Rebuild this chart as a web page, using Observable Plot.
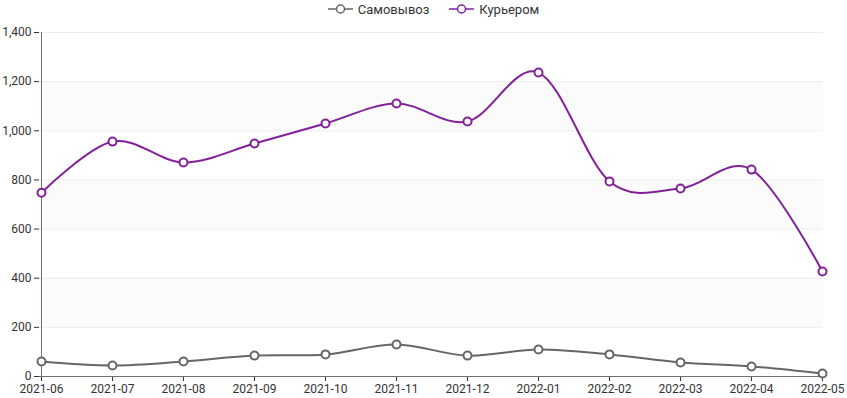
<!DOCTYPE html>
<html>
<head>
<meta charset="utf-8">
<script src="https://cdn.jsdelivr.net/npm/d3@7"></script>
<script src="https://cdn.jsdelivr.net/npm/@observablehq/plot@0.6"></script>
<style>
  body { margin: 0; background: #fff; font-family: Roboto, "Noto Sans", sans-serif; }
  #legend { height: 18px; display: flex; justify-content: center; align-items: center; gap: 20px; font-size: 13px; color: #333; padding-left: 20px; }
  .item { display: flex; align-items: center; gap: 5px; }
  #chart svg { display: block; }
</style>
</head>
<body>
<div id="legend"></div>
<div id="chart"></div>
<script>
const months = ["2021-06","2021-07","2021-08","2021-09","2021-10","2021-11","2021-12","2022-01","2022-02","2022-03","2022-04","2022-05"];
const pickup = [61, 45, 61, 85, 90, 130, 85, 110, 90, 57, 41, 12];
const courier = [748, 956, 871, 948, 1030, 1111, 1038, 1237, 794, 765, 842, 427];
const seriesNames = ["Самовывоз", "Курьером"];
const seriesColors = ["#666666", "#82209a"];
const yTicks = [0, 200, 400, 600, 800, 1000, 1200, 1400];

const rows = [];
months.forEach((m, i) => {
  rows.push({month: m, value: pickup[i], series: seriesNames[0]});
  rows.push({month: m, value: courier[i], series: seriesNames[1]});
});
const bands = yTicks.slice(0, -1).map((t, i) => ({y1: t, y2: yTicks[i + 1], odd: i % 2 === 1}));

// Legend
const legend = document.getElementById("legend");
seriesNames.forEach((name, i) => {
  const c = seriesColors[i];
  const el = document.createElement("div");
  el.className = "item";
  el.innerHTML = `<svg width="25" height="14"><line x1="0" x2="25" y1="7" y2="7" stroke="${c}" stroke-width="1.5"/><circle cx="12.5" cy="7" r="4" fill="#fff" stroke="${c}" stroke-width="1.5"/></svg><span>${name}</span>`;
  legend.appendChild(el);
});

const chart = Plot.plot({
  width: 847,
  height: 380,
  marginTop: 14,
  marginBottom: 22,
  marginLeft: 39,
  marginRight: 24,
  style: {fontFamily: "Roboto, 'Noto Sans', sans-serif", fontSize: "12px", color: "#333"},
  x: {type: "point", domain: months, padding: 0, label: null, tickSize: 5, tickPadding: 3},
  y: {domain: [0, 1400], ticks: yTicks, tickFormat: d3.format(","), label: null, tickSize: 5, tickPadding: 3},
  color: {domain: seriesNames, range: seriesColors},
  marks: [
    Plot.rectY(bands.filter(d => d.odd), {y1: "y1", y2: "y2", fill: "#fbfbfb"}),
    Plot.ruleY(yTicks.slice(1), {stroke: "#ededed", strokeWidth: 1}),
    Plot.ruleY([0], {stroke: "#6e7079", strokeWidth: 1}),
    Plot.ruleX([months[0]], {stroke: "#6e7079", strokeWidth: 1}),
    Plot.line(rows, {x: "month", y: "value", stroke: "series", z: "series", strokeWidth: 2, curve: "cardinal"}),
    Plot.dot(rows, {x: "month", y: "value", stroke: "series", fill: "#fff", r: 4, strokeWidth: 2})
  ]
});
document.getElementById("chart").appendChild(chart);
</script>
</body>
</html>
